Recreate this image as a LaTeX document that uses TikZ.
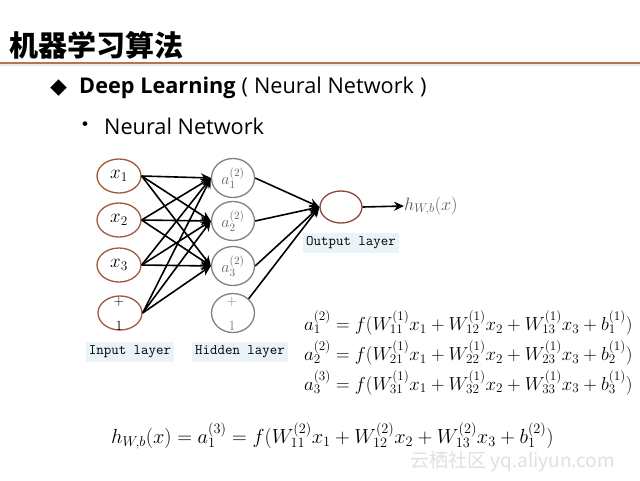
\RequirePackage{fix-cm}
\documentclass[tikz,border=0pt]{standalone}
\usepackage{fontspec}
\newfontfamily\cjk{Noto Sans CJK SC}
\newfontfamily\latin{Open Sans}
\usetikzlibrary{arrows.meta,shapes.geometric}
\definecolor{inbrown}{RGB}{160,90,60}
\definecolor{outbrown}{RGB}{140,70,60}
\definecolor{hidgray}{RGB}{130,130,130}
\definecolor{labbg}{RGB}{234,243,248}
\definecolor{rulebrown}{RGB}{176,120,80}
\tikzset{
  inneuron/.style={ellipse, draw=inbrown, line width=1.3pt, minimum width=44pt, minimum height=34pt, inner sep=0pt},
  hidneuron/.style={ellipse, draw=hidgray, line width=1.3pt, minimum width=43pt, minimum height=39pt, inner sep=0pt, text=black!60},
  layerlabel/.style={fill=labbg, font=\ttfamily\fontsize{14.5}{16}\selectfont, inner xsep=3pt, inner ysep=4pt},
  conn/.style={line width=1.6pt, -{Stealth[length=10pt,width=9pt]}},
}
\begin{document}
\begin{tikzpicture}[x=1pt,y=-1pt]
\useasboundingbox (0,0) rectangle (640,480);
\fill[white] (0,0) rectangle (640,480);
% title
\node[anchor=west, font=\cjk\bfseries\fontsize{29}{31}\selectfont, inner sep=0pt] (title) at (9,45) {机器学习算法};
\coordinate (rl) at (0,63);
\coordinate (rr) at (640,63);
\fill[black!8] (0,64) rectangle (640,66);
\draw[rulebrown, line width=1.6pt] (rl) -- (rr);
% bullets
\node[anchor=center, font=\cjk\fontsize{17}{20}\selectfont, inner sep=0pt] (dia) at (58.5,88) {◆};
\node[anchor=west, font=\latin\fontsize{21.7}{23}\selectfont, inner sep=0pt] (h1) at (79,88) {\textbf{Deep Learning}\hspace{6pt}(\hspace{6pt}Neural Network\hspace{6pt})};
\node[anchor=center, font=\cjk\fontsize{22}{24}\selectfont, inner sep=0pt] (dot) at (85,127) {•};
\node[anchor=west, font=\latin\fontsize{21.7}{23}\selectfont, inner sep=0pt] (h2) at (104,126) {Neural Network};
% input layer
\node[inneuron, font=\fontsize{19}{21}\selectfont] (x1) at (119,176) {$x_1$};
\node[inneuron, font=\fontsize{19}{21}\selectfont] (x2) at (119,220) {$x_2$};
\node[inneuron, font=\fontsize{19}{21}\selectfont] (x3) at (119,265) {$x_3$};
\node[inneuron] (xb) at (120,313) {};
\node[font=\fontsize{14}{14}\selectfont, inner sep=0pt] (xbp) at (119,302) {+};
\node[font=\fontsize{14}{14}\selectfont, inner sep=0pt] (xbo) at (119,326) {1};
% hidden layer
\node[hidneuron, font=\fontsize{16}{17}\selectfont] (a1) at (233,178) {$a_1^{(2)}$};
\node[hidneuron, font=\fontsize{16}{17}\selectfont] (a2) at (233,221) {$a_2^{(2)}$};
\node[hidneuron, font=\fontsize{16}{17}\selectfont] (a3) at (233,266) {$a_3^{(2)}$};
\node[hidneuron] (ab) at (233,313) {};
\node[font=\fontsize{14}{14}\selectfont, inner sep=0pt, text=hidgray] (abp) at (232,302) {+};
\node[font=\fontsize{14}{14}\selectfont, inner sep=0pt, text=hidgray] (abo) at (232,326) {1};
% output
\node[ellipse, draw=outbrown, line width=1.3pt, minimum width=42pt, minimum height=32pt, inner sep=0pt] (out) at (341,207) {};
\node[anchor=west, inner sep=0pt, text=black!65, font=\fontsize{18}{20}\selectfont] (hx) at (404,206) {$h_{W,b}(x)$};
\draw[conn] (out.east) -- (hx.west);
% connections input->hidden
\foreach \s in {x1,x2,x3,xb}{
  \foreach \t in {a1,a2,a3}{
    \draw[conn] (\s.east) -- (\t.west);
  }
}
% hidden->output
\foreach \s in {a1,a2,a3}{
  \draw[conn] (\s.east) -- (out.west);
}
\draw[conn] (ab.north east) -- (out.west);
% labels
\node[layerlabel] (lin) at (130,352) {Input layer};
\node[layerlabel] (lhid) at (240,352) {Hidden layer};
\node[layerlabel] (lout) at (351,243) {Output layer};
% equations
\node[anchor=west, inner sep=0pt, font=\fontsize{18.8}{24}\selectfont] (eqs) at (304,354) {$\begin{array}{@{}l@{}}
a_1^{(2)} = f(W_{11}^{(1)}x_1 + W_{12}^{(1)}x_2 + W_{13}^{(1)}x_3 + b_1^{(1)})\\[3pt]
a_2^{(2)} = f(W_{21}^{(1)}x_1 + W_{22}^{(1)}x_2 + W_{23}^{(1)}x_3 + b_2^{(1)})\\[3pt]
a_3^{(3)} = f(W_{31}^{(1)}x_1 + W_{32}^{(1)}x_2 + W_{33}^{(1)}x_3 + b_3^{(1)})
\end{array}$};
\node[anchor=west, inner sep=0pt, font=\fontsize{20.4}{22}\selectfont] (eqh) at (111,436) {$h_{W,b}(x) = a_1^{(3)} = f(W_{11}^{(2)}x_1 + W_{12}^{(2)}x_2 + W_{13}^{(2)}x_3 + b_1^{(2)})$};
% watermark
\node[anchor=west, inner sep=0pt, text=black!12, font=\cjk\fontsize{19}{20}\selectfont] (wm) at (410,462) {云栖社区 yq.aliyun.com};
\end{tikzpicture}
\end{document}
